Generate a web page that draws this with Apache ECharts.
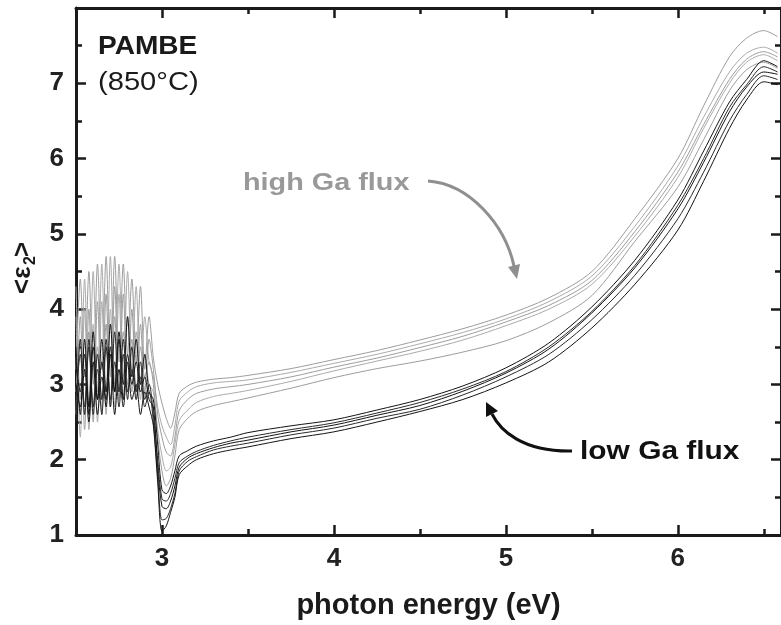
<!DOCTYPE html>
<html>
<head>
<meta charset="utf-8">
<script src="https://cdn.jsdelivr.net/npm/echarts@6/dist/echarts.min.js"></script>
<style>
  html, body { margin: 0; padding: 0; background: #fff; }
  #chart { width: 781px; height: 625px; }
</style>
</head>
<body>
<div id="chart"></div>
<script>
// photon energy (eV), shared by all spectra
var energy = [2.500, 2.525, 2.550, 2.575, 2.600, 2.625, 2.650, 2.675, 2.700, 2.725,
              2.750, 2.775, 2.800, 2.825, 2.850, 2.875, 2.900, 2.925, 2.950, 2.975,
              3.000, 3.025, 3.050, 3.075, 3.100, 3.150, 3.200, 3.300, 3.400, 3.500,
              3.750, 4.000, 4.250, 4.500, 4.750, 5.000, 5.250, 5.500, 5.750, 6.000,
              6.150, 6.300, 6.400, 6.500, 6.580];

// <eps2> spectra, high Ga flux (grey)
var high1 = [3.2, 4.4, 3.1, 4.5, 3.0, 4.6, 3.2, 4.7, 3.1, 4.7, 3.3, 4.6, 3.4, 4.4, 3.3, 4.3, 3.2, 3.9,
             3.35, 3.0, 2.75, 2.55, 2.42, 2.62,
             2.88, 2.98, 3.03, 3.07, 3.09, 3.12, 3.21, 3.33, 3.45, 3.59, 3.74, 3.92, 4.15, 4.50, 5.20, 6.00, 6.70, 7.35, 7.60, 7.70, 7.62];
var high2 = [4.3, 2.8, 4.4, 2.7, 4.5, 2.9, 4.6, 2.8, 4.7, 3.0, 4.6, 3.1, 4.5, 3.2, 4.3, 3.0, 3.9, 3.3,
             3.1, 2.7, 2.45, 2.3, 2.2, 2.45,
             2.78, 2.90, 2.97, 3.02, 3.04, 3.06, 3.16, 3.28, 3.40, 3.54, 3.69, 3.87, 4.10, 4.44, 5.10, 5.90, 6.55, 7.15, 7.40, 7.48, 7.40];
var high3 = [2.6, 3.9, 2.4, 4.0, 2.5, 4.1, 2.6, 4.2, 2.7, 4.3, 2.8, 4.2, 2.9, 4.0, 2.8, 3.8, 2.9, 3.6,
             3.2, 2.6, 2.3, 2.1, 2.05, 2.3,
             2.65, 2.80, 2.88, 2.94, 2.97, 3.00, 3.10, 3.23, 3.35, 3.49, 3.64, 3.83, 4.05, 4.38, 5.03, 5.82, 6.45, 7.05, 7.32, 7.42, 7.35];
var high4 = [3.9, 2.3, 4.0, 2.4, 3.8, 2.5, 4.1, 2.6, 4.0, 2.7, 4.2, 2.8, 3.9, 2.9, 3.7, 2.8, 3.4, 3.0,
             2.9, 2.4, 2.05, 1.85, 1.9, 2.2,
             2.52, 2.66, 2.76, 2.84, 2.88, 2.92, 3.04, 3.18, 3.31, 3.44, 3.59, 3.78, 4.00, 4.33, 4.97, 5.75, 6.40, 7.00, 7.28, 7.38, 7.30];
var high5 = [2.9, 3.6, 2.6, 3.7, 2.7, 3.5, 2.8, 3.8, 2.7, 3.9, 2.9, 3.7, 3.0, 3.6, 2.9, 3.5, 3.1, 3.3,
             3.0, 2.3, 1.85, 1.65, 1.75, 2.05,
             2.40, 2.55, 2.64, 2.72, 2.77, 2.82, 2.95, 3.09, 3.21, 3.31, 3.43, 3.58, 3.82, 4.18, 4.90, 5.62, 6.25, 6.90, 7.18, 7.28, 7.20];

// <eps2> spectra, low Ga flux (black)
var low1 = [3.5, 2.6, 3.6, 2.7, 3.7, 2.8, 3.6, 2.9, 3.8, 2.9, 3.7, 3.0, 3.9, 3.1, 3.6, 3.0, 3.4, 2.9,
            2.8, 2.2, 1.6, 1.55, 1.65, 1.85,
            2.05, 2.12, 2.18, 2.25, 2.30, 2.36, 2.45, 2.53, 2.66, 2.80, 2.98, 3.22, 3.55, 4.03, 4.65, 5.45, 6.10, 6.75, 7.05, 7.30, 7.22];
var low2 = [2.5, 3.6, 2.7, 3.5, 2.6, 3.4, 2.8, 3.6, 2.7, 3.7, 2.9, 3.6, 2.8, 3.5, 2.9, 3.3, 2.8, 3.0,
            2.6, 2.0, 1.48, 1.45, 1.55, 1.75,
            1.96, 2.05, 2.11, 2.19, 2.25, 2.30, 2.40, 2.49, 2.62, 2.76, 2.94, 3.17, 3.50, 3.97, 4.58, 5.38, 6.00, 6.68, 6.98, 7.22, 7.15];
var low3 = [3.3, 2.9, 3.4, 2.6, 3.5, 2.8, 3.3, 2.7, 3.5, 2.9, 3.6, 2.8, 3.4, 3.0, 3.3, 2.9, 3.1, 2.8,
            2.7, 1.9, 1.38, 1.35, 1.45, 1.65,
            1.90, 2.02, 2.08, 2.16, 2.22, 2.26, 2.37, 2.46, 2.59, 2.72, 2.91, 3.15, 3.47, 3.95, 4.55, 5.33, 5.95, 6.62, 6.95, 7.15, 7.12];
var low4 = [2.8, 3.4, 2.6, 3.6, 2.7, 3.2, 2.6, 3.5, 2.8, 3.3, 2.7, 3.4, 2.9, 3.2, 2.8, 3.1, 2.7, 2.9,
            2.5, 1.8, 1.2, 1.22, 1.35, 1.55,
            1.85, 1.98, 2.04, 2.13, 2.18, 2.22, 2.33, 2.42, 2.55, 2.67, 2.86, 3.10, 3.40, 3.86, 4.45, 5.20, 5.82, 6.50, 6.85, 7.10, 7.05];
var low5 = [3.0, 2.7, 3.2, 2.5, 3.3, 2.6, 3.1, 2.8, 3.4, 2.6, 3.2, 2.7, 3.3, 2.8, 3.0, 2.6, 2.9, 2.7,
            2.45, 1.7, 1.05, 1.12, 1.3, 1.5,
            1.80, 1.92, 2.00, 2.08, 2.13, 2.17, 2.28, 2.37, 2.50, 2.64, 2.80, 3.02, 3.30, 3.75, 4.33, 5.05, 5.70, 6.40, 6.78, 7.02, 6.98];

var highSeries = [high1, high2, high3, high4, high5];
var lowSeries = [low1, low2, low3, low4, low5];

var xMajor = [3, 4, 5, 6];
var xMinor = [2.5, 3.5, 4.5, 5.5, 6.5];

var FONT = 'Liberation Sans, Arial, Helvetica, sans-serif';

function pairs(ys) {
    return energy.map(function (e, i) { return [e, ys[i]]; });
}

function mkLine(ys, color) {
    return {
        type: 'line',
        data: pairs(ys),
        showSymbol: false,
        smooth: 0.3,
        xAxisIndex: 0,
        yAxisIndex: 0,
        lineStyle: { color: color, width: 1 },
        silent: true
    };
}

var series = [];
highSeries.forEach(function (s, i) {
    series.push(mkLine(s, i % 2 ? '#ababab' : '#9d9d9d'));
});
lowSeries.forEach(function (s, i) {
    series.push(mkLine(s, i % 2 ? '#2a2a2a' : '#141414'));
});

function xAx(pos, ticks, len, showLine, showLabel) {
    return {
        type: 'value',
        position: pos,
        min: 2.5,
        max: 6.6,
        axisLine: { show: showLine, onZero: false, lineStyle: { color: '#1a1a1a', width: 3 } },
        axisTick: { show: true, inside: true, length: len, customValues: ticks,
                    lineStyle: { color: '#1a1a1a', width: 2.5 } },
        axisLabel: { show: showLabel, customValues: ticks, margin: 11,
                     fontFamily: FONT, fontWeight: 'bold', fontSize: 26, color: '#222' },
        splitLine: { show: false }
    };
}

function yAx(pos, showLabel) {
    return {
        type: 'value',
        position: pos,
        min: 1,
        max: 8,
        interval: 1,
        axisLine: { show: true, onZero: false, lineStyle: { color: '#1a1a1a', width: 3 } },
        axisTick: { show: true, inside: true, length: 10, lineStyle: { color: '#1a1a1a', width: 2.5 } },
        minorTick: { show: true, splitNumber: 2, length: 6, lineStyle: { color: '#1a1a1a', width: 2.5 } },
        axisLabel: { show: showLabel, margin: 12, fontFamily: FONT, fontWeight: 'bold', fontSize: 26, color: '#222',
                     formatter: function (v) { return v >= 8 ? '' : String(v); } },
        splitLine: { show: false }
    };
}

var chart = echarts.init(document.getElementById('chart'));

var xAxes = [
    xAx('bottom', xMajor, 10, true, true),
    xAx('bottom', xMinor, 6, false, false),
    xAx('top', xMajor, 10, true, false),
    xAx('top', xMinor, 6, false, false)
];
xAxes[0].name = 'photon energy (eV)';
xAxes[0].nameLocation = 'middle';
xAxes[0].nameGap = 56;
xAxes[0].nameTextStyle = { fontFamily: FONT, fontWeight: 'bold', fontSize: 29, color: '#1a1a1a' };

chart.setOption({
    animation: false,
    backgroundColor: '#ffffff',
    grid: { left: 76, top: 8, width: 709, height: 528, containLabel: false },
    xAxis: xAxes,
    yAxis: [yAx('left', true), yAx('right', false)],
    series: series,
    graphic: [
        // y axis title <eps_2>
        {
            type: 'group', x: 23, y: 274, rotation: Math.PI / 2,
            children: [
                { type: 'text', x: -20, y: 0, style: { text: '<ε', font: 'bold 26px ' + FONT, fill: '#1a1a1a',
                  textAlign: 'left', textVerticalAlign: 'middle' } },
                { type: 'text', x: 9, y: 8, style: { text: '2', font: 'bold 16px ' + FONT, fill: '#1a1a1a',
                  textAlign: 'left', textVerticalAlign: 'middle' } },
                { type: 'text', x: 17, y: 0, style: { text: '>', font: 'bold 26px ' + FONT, fill: '#1a1a1a',
                  textAlign: 'left', textVerticalAlign: 'middle' } }
            ]
        },
        { type: 'text', x: 98, y: 47, scaleX: 1.08,
          style: { text: 'PAMBE', font: 'bold 26px ' + FONT, fill: '#1a1a1a', textVerticalAlign: 'middle' } },
        { type: 'text', x: 98, y: 83, scaleX: 1.12,
          style: { text: '(850°C)', font: '26px ' + FONT, fill: '#1a1a1a', textVerticalAlign: 'middle' } },
        { type: 'text', x: 243, y: 183, scaleX: 1.2,
          style: { text: 'high Ga flux', font: 'bold 24px ' + FONT, fill: '#999999', textVerticalAlign: 'middle' } },
        { type: 'text', x: 580, y: 452, scaleX: 1.15,
          style: { text: 'low Ga flux', font: 'bold 26px ' + FONT, fill: '#111111', textVerticalAlign: 'middle' } },
        // arrows
        { type: 'bezierCurve',
          shape: { x1: 428, y1: 181, cpx1: 470, cpy1: 184, cpx2: 505, cpy2: 225, x2: 514, y2: 266 },
          style: { stroke: '#8f8f8f', lineWidth: 3, fill: null } },
        { type: 'polygon', shape: { points: [[517, 279], [520, 264], [508, 267]] },
          style: { fill: '#8f8f8f' } },
        { type: 'bezierCurve',
          shape: { x1: 572, y1: 451, cpx1: 522, cpy1: 452, cpx2: 500, cpy2: 430, x2: 492, y2: 414 },
          style: { stroke: '#111111', lineWidth: 3, fill: null } },
        { type: 'polygon', shape: { points: [[486, 402], [498, 411], [486, 417]] },
          style: { fill: '#111111' } }
    ]
});
</script>
</body>
</html>
